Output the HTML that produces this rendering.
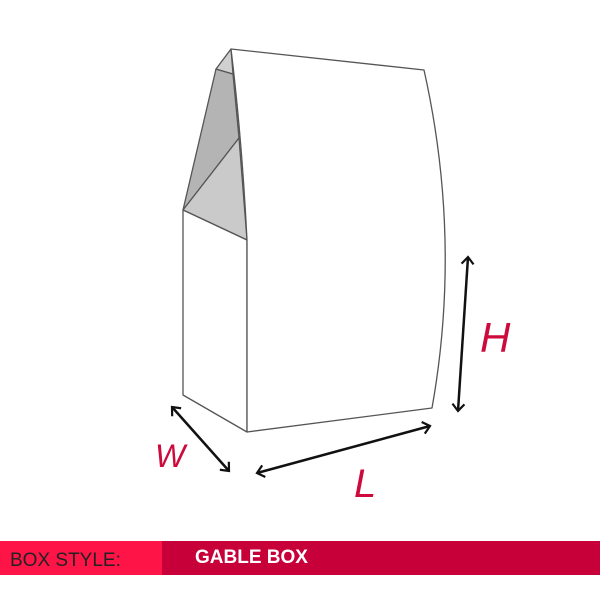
<!DOCTYPE html>
<html><head><style>body{margin:0;width:600px;height:600px;background:#fff;overflow:hidden;position:relative;font-family:"Liberation Sans",sans-serif}</style></head><body>
<svg width="600" height="600" style="position:absolute;left:0;top:0">
<defs><marker id="a" markerWidth="14" markerHeight="14" refX="9" refY="7" orient="auto-start-reverse" markerUnits="userSpaceOnUse"><path d="M2,1 L9,7 L2,13" fill="none" stroke="#111" stroke-width="2.2"/></marker></defs>
<g stroke="#555" stroke-width="1.3" stroke-linejoin="round">
<polygon points="216,69 233,74 239,138 183,210" fill="#b4b4b4"/>
<polygon points="183,210 239,138 247,240" fill="#cacaca"/>
<polygon points="216,69 231,49 233,74" fill="#d0d0d0"/>
<polygon points="183,210 247,240 247,432 183,395" fill="#fff"/>
<path d="M231,49 L424,70 Q462,240 432,408 L247,432 L247,240 Q242,140 231,49Z" fill="#fff"/>
</g>
<g stroke="#111" stroke-width="2.5" fill="none">
<line x1="468" y1="257" x2="458" y2="411" marker-start="url(#a)" marker-end="url(#a)"/>
<line x1="172" y1="407" x2="229" y2="471" marker-start="url(#a)" marker-end="url(#a)"/>
<line x1="257" y1="473" x2="430" y2="426" marker-start="url(#a)" marker-end="url(#a)"/>
</g>
<g fill="#cc0a3c" font-family="Liberation Sans" font-style="italic">
<text x="480" y="352" font-size="42">H</text>
<text x="155" y="467" font-size="32">W</text>
<text x="354" y="497" font-size="40">L</text>
</g>
<rect x="0" y="541" width="600" height="34" fill="#c8003a"/>
<rect x="0" y="541" width="162" height="34" fill="#ff1447"/>
<text x="10" y="566" font-size="19" fill="#222">BOX STYLE:</text>
<text x="195" y="563" font-size="19" font-weight="bold" fill="#fff">GABLE BOX</text>
</svg>
</body></html>
